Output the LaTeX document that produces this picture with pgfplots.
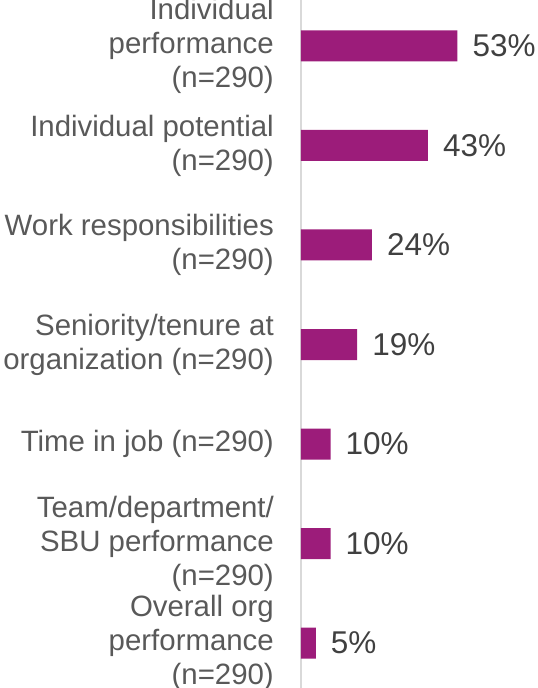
\documentclass[border=0pt]{standalone}
\usepackage{fontspec}
\setmainfont{Liberation Sans}
\usepackage{pgfplots}
\pgfplotsset{compat=1.18}
\definecolor{barpurple}{HTML}{9C1C7A}
\definecolor{labelgray}{HTML}{595959}
\definecolor{valgray}{HTML}{404040}
\definecolor{axisgray}{HTML}{D9D9D9}

\pgfplotstableread{
y val
0 53
1 43
2 24
3 19
4 10
5 10
6 5
}\drivers

\begin{document}
\begin{tikzpicture}
\begin{axis}[
  scale only axis, width=237pt, height=688pt,
  xmin=0, xmax=80.3,
  ymin=-0.462, ymax=6.452, y dir=reverse,
  xbar, bar width=31pt,
  axis x line=none, axis y line*=left,
  y axis line style={axisgray, line width=1.5pt},
  xtick=\empty,
  ytick={0,...,6}, major tick length=0pt,
  yticklabels={
    {Individual\\performance\\(n=290)},
    {Individual potential\\(n=290)},
    {Work responsibilities\\(n=290)},
    {Seniority/tenure at\\organization (n=290)},
    {Time in job (n=290)},
    {Team/department/\\SBU performance\\(n=290)},
    {Overall org\\performance\\(n=290)}},
  yticklabel style={align=right, inner sep=0pt, xshift=-27pt,
    text=labelgray, font=\fontsize{29.4}{34}\selectfont},
  point meta=x,
  nodes near coords={\pgfmathprintnumber{\pgfplotspointmeta}\%},
  nodes near coords style={anchor=west, inner sep=0pt, xshift=15pt,
    text=valgray, font=\fontsize{31.5}{36}\selectfont,
    /pgf/number format/assume math mode=true},
  clip=false,
]
\addplot[fill=barpurple, draw=none] table[x=val, y=y] {\drivers};
\end{axis}
\pgfresetboundingbox
\path (current axis.south west) ++(-301pt,0pt) rectangle (current axis.north east);
\end{tikzpicture}
\end{document}
